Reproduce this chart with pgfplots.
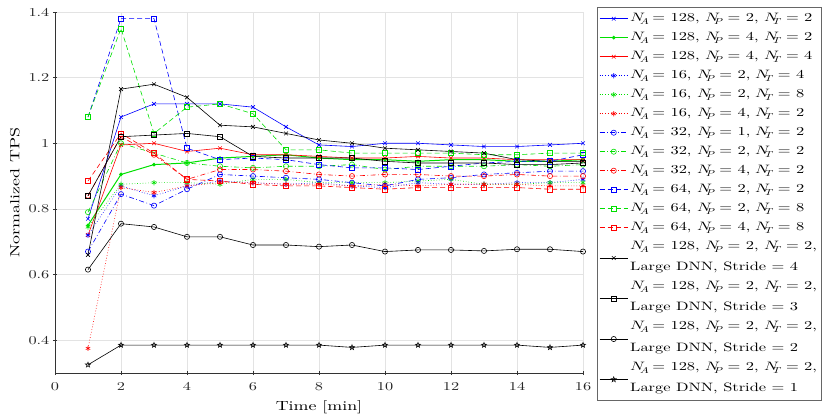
\documentclass[border=0pt]{standalone}
\usepackage{fontspec}
\usepackage{unicode-math}
\setmainfont{lmroman10-regular.otf}[FakeStretch=1.35]
\setmathfont{latinmodern-math.otf}[FakeStretch=1.35]
\usepackage{pgfplots}
\usepackage{pgfplotstable}
\pgfplotsset{compat=1.18}

% MATLAB-like pentagram marker
\pgfdeclareplotmark{pentagram}{%
  \pgfpathmoveto{\pgfpointpolar{90}{\pgfplotmarksize}}%
  \pgfpathlineto{\pgfpointpolar{126}{0.42\pgfplotmarksize}}%
  \pgfpathlineto{\pgfpointpolar{162}{\pgfplotmarksize}}%
  \pgfpathlineto{\pgfpointpolar{198}{0.42\pgfplotmarksize}}%
  \pgfpathlineto{\pgfpointpolar{234}{\pgfplotmarksize}}%
  \pgfpathlineto{\pgfpointpolar{270}{0.42\pgfplotmarksize}}%
  \pgfpathlineto{\pgfpointpolar{306}{\pgfplotmarksize}}%
  \pgfpathlineto{\pgfpointpolar{342}{0.42\pgfplotmarksize}}%
  \pgfpathlineto{\pgfpointpolar{18}{\pgfplotmarksize}}%
  \pgfpathlineto{\pgfpointpolar{54}{0.42\pgfplotmarksize}}%
  \pgfpathclose\pgfusepathqstroke}

\definecolor{mblue}{rgb}{0,0,1}
\definecolor{mgreen}{rgb}{0,0.88,0}
\definecolor{mred}{rgb}{1,0,0}

\tikzset{
  msolid/.style={solid},
  mdot/.style={dash pattern=on 0.7bp off 2bp},
  mdashdot/.style={dash pattern=on 5bp off 2.5bp on 0.7bp off 2.5bp},
  mdash/.style={dash pattern=on 5bp off 3bp},
}
\newcommand{\cfg}[3]{$N_A$ = #1, $N_P$ = #2, $N_T$ = #3}

% t, then one column per configuration
\pgfplotstableread{
t s1 s2 s3 s4 s5 s6 s7 s8 s9 s10 s11 s12 s13 s14 s15 s16
1 0.77 0.75 0.72 0.72 0.745 0.375 0.67 0.79 0.84 1.08 1.08 0.885 0.66 0.84 0.615 0.325
2 1.08 0.905 0.995 0.87 0.875 0.865 0.845 1.00 1.02 1.38 1.35 1.03 1.165 1.02 0.755 0.385
3 1.12 0.935 1.00 0.84 0.88 0.85 0.81 0.97 0.965 1.38 1.03 0.97 1.18 1.025 0.745 0.385
4 1.12 0.94 0.975 0.87 0.88 0.87 0.86 0.94 0.89 0.985 1.11 0.89 1.14 1.03 0.715 0.385
5 1.12 0.955 0.985 0.885 0.875 0.88 0.905 0.93 0.92 0.95 1.12 0.885 1.055 1.02 0.715 0.385
6 1.11 0.96 0.965 0.88 0.89 0.88 0.90 0.925 0.92 0.955 1.09 0.875 1.05 0.96 0.69 0.385
7 1.05 0.965 0.965 0.875 0.89 0.875 0.895 0.93 0.915 0.95 0.98 0.87 1.03 0.955 0.69 0.385
8 0.995 0.955 0.96 0.88 0.88 0.875 0.89 0.93 0.905 0.935 0.98 0.87 1.01 0.955 0.685 0.385
9 0.99 0.95 0.955 0.87 0.88 0.87 0.88 0.935 0.90 0.925 0.97 0.865 1.00 0.955 0.69 0.378
10 1.00 0.95 0.955 0.865 0.88 0.875 0.87 0.92 0.905 0.925 0.97 0.86 0.985 0.945 0.67 0.385
11 1.00 0.945 0.96 0.88 0.885 0.87 0.89 0.93 0.905 0.92 0.97 0.865 0.98 0.94 0.675 0.385
12 0.995 0.95 0.955 0.875 0.89 0.875 0.895 0.93 0.90 0.93 0.97 0.865 0.975 0.94 0.675 0.385
13 0.99 0.95 0.955 0.875 0.875 0.875 0.905 0.93 0.90 0.94 0.965 0.865 0.97 0.94 0.672 0.385
14 0.99 0.945 0.95 0.88 0.875 0.875 0.91 0.935 0.905 0.945 0.965 0.865 0.95 0.935 0.677 0.385
15 0.995 0.945 0.95 0.88 0.88 0.87 0.915 0.93 0.90 0.945 0.97 0.86 0.945 0.935 0.677 0.378
16 1.00 0.95 0.95 0.89 0.88 0.87 0.915 0.935 0.90 0.965 0.97 0.86 0.945 0.94 0.67 0.385
}\tps

\begin{document}
\begin{tikzpicture}
\useasboundingbox (-55bp,-45bp) rectangle (770bp,373bp);
\begin{axis}[
  scale only axis, width=528bp, height=361bp,
  xmin=0, xmax=16, ymin=0.3, ymax=1.4,
  xtick={0,2,4,6,8,10,12,14,16},
  ytick={0.4,0.6,0.8,1,1.2,1.4},
  /pgf/number format/assume math mode=true,
  axis lines=left, axis line style={-, black!80, line width=0.6bp},
  tick style={black!80, line width=0.5bp},
  tick label style={black!85, font=\fontsize{12.1}{14}\selectfont},
  xticklabel style={yshift=-4bp},
  label style={font=\fontsize{13.3}{16}\selectfont},
  grid=major, grid style={gray!22, line width=0.5bp},
  xlabel={Time [min]}, ylabel={Normalized TPS},
  ylabel style={at={(axis description cs:-0.0758,0.5)}, anchor=center},
  xlabel style={at={(axis description cs:0.5,-0.095)}, anchor=center},
  every axis plot/.append style={line width=0.6bp, mark size=2.6bp},
  legend cell align=left,
  legend image code/.code={\draw[mark repeat=2,mark phase=2] plot coordinates {(0bp,0bp)(14bp,0bp)(28bp,0bp)};},
  legend style={at={(1.0265,1.014)}, anchor=north west, draw=black!60,
    line width=0.5bp, inner xsep=2bp, inner ysep=2bp,
    font=\fontsize{12.2}{14}\selectfont,
    nodes={inner xsep=2bp, inner ysep=3.25bp, text height=9.2bp, text depth=3.3bp}},
]
\addplot[mblue, msolid, mark=x, mark options={solid}] table[x=t,y=s1] {\tps};
\addlegendentry{\cfg{128}{2}{2}}
\addplot[mgreen, msolid, line width=1bp, mark=*, mark size=1.3bp, mark options={solid}] table[x=t,y=s2] {\tps};
\addlegendentry{\cfg{128}{4}{2}}
\addplot[mred, msolid, mark=x, mark options={solid}] table[x=t,y=s3] {\tps};
\addlegendentry{\cfg{128}{4}{4}}
\addplot[mblue, mdot, mark=asterisk, mark options={solid}] table[x=t,y=s4] {\tps};
\addlegendentry{\cfg{16}{2}{4}}
\addplot[mgreen, mdot, mark=asterisk, mark options={solid}] table[x=t,y=s5] {\tps};
\addlegendentry{\cfg{16}{2}{8}}
\addplot[mred, mdot, mark=asterisk, mark options={solid}] table[x=t,y=s6] {\tps};
\addlegendentry{\cfg{16}{4}{2}}
\addplot[mblue, mdashdot, mark=o, mark options={solid}] table[x=t,y=s7] {\tps};
\addlegendentry{\cfg{32}{1}{2}}
\addplot[mgreen, mdashdot, mark=o, mark options={solid}] table[x=t,y=s8] {\tps};
\addlegendentry{\cfg{32}{2}{2}}
\addplot[mred, mdashdot, mark=o, mark options={solid}] table[x=t,y=s9] {\tps};
\addlegendentry{\cfg{32}{4}{2}}
\addplot[mblue, mdash, mark=square, mark options={solid}] table[x=t,y=s10] {\tps};
\addlegendentry{\cfg{64}{2}{2}}
\addplot[mgreen, mdash, mark=square, mark options={solid}] table[x=t,y=s11] {\tps};
\addlegendentry{\cfg{64}{2}{8}}
\addplot[mred, mdash, mark=square, mark options={solid}] table[x=t,y=s12] {\tps};
\addlegendentry{\cfg{64}{4}{8}}
\addlegendimage{empty legend}
\addlegendentry{\cfg{128}{2}{2},}
\addplot[black, msolid, mark=x,
  legend image code/.code={\draw[mark repeat=2,mark phase=2] plot coordinates {(0bp,9.4bp)(14bp,9.4bp)(28bp,9.4bp)};}]
  table[x=t,y=s13] {\tps};
\addlegendentry{Large DNN, Stride = 4}
\addlegendimage{empty legend}
\addlegendentry{\cfg{128}{2}{2},}
\addplot[black, msolid, mark=square,
  legend image code/.code={\draw[mark repeat=2,mark phase=2] plot coordinates {(0bp,9.4bp)(14bp,9.4bp)(28bp,9.4bp)};}]
  table[x=t,y=s14] {\tps};
\addlegendentry{Large DNN, Stride = 3}
\addlegendimage{empty legend}
\addlegendentry{\cfg{128}{2}{2},}
\addplot[black, msolid, mark=o,
  legend image code/.code={\draw[mark repeat=2,mark phase=2] plot coordinates {(0bp,9.4bp)(14bp,9.4bp)(28bp,9.4bp)};}]
  table[x=t,y=s15] {\tps};
\addlegendentry{Large DNN, Stride = 2}
\addlegendimage{empty legend}
\addlegendentry{\cfg{128}{2}{2},}
\addplot[black, msolid, mark=pentagram,
  legend image code/.code={\draw[mark repeat=2,mark phase=2] plot coordinates {(0bp,9.4bp)(14bp,9.4bp)(28bp,9.4bp)};}]
  table[x=t,y=s16] {\tps};
\addlegendentry{Large DNN, Stride = 1}
\end{axis}
\end{tikzpicture}
\end{document}
